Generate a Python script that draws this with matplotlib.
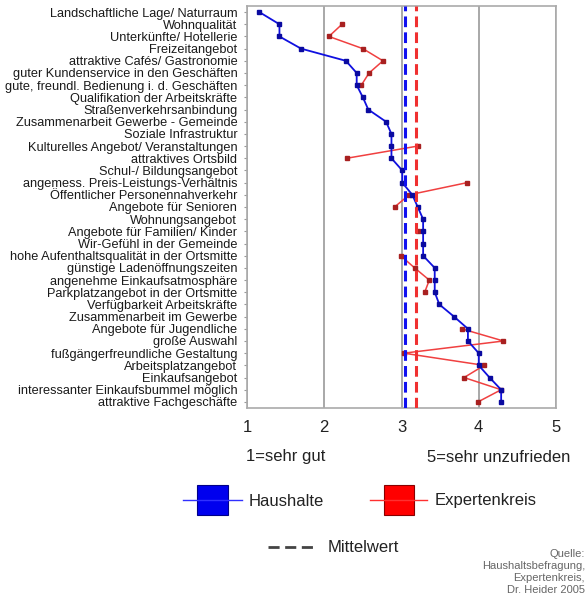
import numpy as np
import matplotlib
matplotlib.use('Agg')
import matplotlib.pyplot as plt

plt.rcParams['font.family'] = ['Liberation Sans', 'DejaVu Sans']

# Merkmale (von oben nach unten)
merkmale = [
    'Landschaftliche Lage/ Naturraum', 'Wohnqualität', 'Unterkünfte/ Hotellerie',
    'Freizeitangebot', 'attraktive Cafés/ Gastronomie',
    'guter Kundenservice in den Geschäften', 'gute, freundl. Bedienung i. d. Geschäften',
    'Qualifikation der Arbeitskräfte', 'Straßenverkehrsanbindung',
    'Zusammenarbeit Gewerbe - Gemeinde', 'Soziale Infrastruktur',
    'Kulturelles Angebot/ Veranstaltungen', 'attraktives Ortsbild',
    'Schul-/ Bildungsangebot', 'angemess. Preis-Leistungs-Verhältnis',
    'Öffentlicher Personennahverkehr', 'Angebote für Senioren', 'Wohnungsangebot',
    'Angebote für Familien/ Kinder', 'Wir-Gefühl in der Gemeinde',
    'hohe Aufenthaltsqualität in der Ortsmitte', 'günstige Ladenöffnungszeiten',
    'angenehme Einkaufsatmosphäre', 'Parkplatzangebot in der Ortsmitte',
    'Verfügbarkeit Arbeitskräfte', 'Zusammenarbeit im Gewerbe',
    'Angebote für Jugendliche', 'große Auswahl', 'fußgängerfreundliche Gestaltung',
    'Arbeitsplatzangebot', 'Einkaufsangebot', 'interessanter Einkaufsbummel möglich',
    'attraktive Fachgeschäfte',
]

# Noten Haushalte
haushalte = [1.16, 1.42, 1.42, 1.70, 2.28, 2.42, 2.42, 2.50, 2.57, 2.80, 2.87,
             2.87, 2.87, 3.01, 3.01, 3.14, 3.21, 3.28, 3.28, 3.28, 3.28, 3.43,
             3.43, 3.43, 3.49, 3.68, 3.86, 3.86, 4.00, 4.00, 4.14, 4.29, 4.29]

# Noten Expertenkreis (nan = keine Angabe)
nan = np.nan
experten = [nan, 2.23, 2.06, 2.50, 2.76, 2.58, 2.48, nan, nan, nan, nan,
            3.21, 2.29, nan, 3.85, 3.10, 2.91, nan, 3.21, nan, 2.99, 3.17,
            3.36, 3.30, nan, nan, 3.78, 4.32, 3.03, 4.07, 3.81, 4.29, 3.99]

mittel_haushalte = 3.05
mittel_experten = 3.19

W, H = 588, 598
fig = plt.figure(figsize=(W / 100, H / 100), dpi=100)
ax = fig.add_axes([247 / W, 1 - 408 / H, (556 - 247) / W, (408 - 6) / H])

y = np.arange(len(merkmale))
ax.plot(haushalte, y, color='#1010e0', lw=1.3, marker='s', ms=3.3,
        mfc='#0a0aa0', mec='#0a0aa0', zorder=3)
ax.plot(experten, y, color='#f04040', lw=1.1, marker='s', ms=3.2,
        mfc='#a82020', mec='#a82020', zorder=2)

ax.axvline(mittel_haushalte, color='#1010f0', lw=2.2, ls=(0, (3.5, 1.7)), zorder=4)
ax.axvline(mittel_experten, color='#f03030', lw=2.2, ls=(0, (3.5, 1.7)), zorder=4)

ax.set_xlim(1, 5)
ax.set_ylim(len(merkmale) - 0.5, -0.5)
ax.set_xticks([1, 2, 3, 4, 5])
ax.set_yticks(y)
ax.set_yticklabels(merkmale, fontsize=9.2, color='#1a1a1a')
ax.tick_params(axis='y', length=2, color='#999999', pad=5)
ax.tick_params(axis='x', length=0, pad=9, labelsize=12, colors='#222222')
ax.grid(axis='x', color='#999999', lw=1.2)
ax.set_axisbelow(True)
for s in ax.spines.values():
    s.set_color('#aaaaaa')
    s.set_linewidth(1.2)

def px(x, yy):
    return x / W, 1 - yy / H

fig.text(*px(246, 457), '1=sehr gut', fontsize=12, va='center', ha='left', color='#222222')
fig.text(*px(570, 457), '5=sehr unzufrieden', fontsize=12, va='center', ha='right', color='#222222')

# Legende
lax = fig.add_axes([0, 0, 1, 1])
lax.set_xlim(0, W)
lax.set_ylim(H, 0)
lax.axis('off')
lax.plot([183, 242], [500, 500], color='#3030ff', lw=1)
lax.add_patch(plt.Rectangle((197, 485), 31, 30, fc='#0000ee', ec='#000088', lw=0.8))
lax.text(249, 501, 'Haushalte', fontsize=12, va='center', color='#222222')
lax.plot([370, 427], [500, 500], color='#ff3030', lw=1)
lax.add_patch(plt.Rectangle((384, 485), 30, 30, fc='#ff0000', ec='#880000', lw=0.8))
lax.text(435, 501, 'Expertenkreis', fontsize=12, va='center', color='#222222')
lax.plot([268, 317], [547, 547], color='#444444', lw=2, ls=(0, (4, 2)))
lax.text(328, 547, 'Mittelwert', fontsize=12, va='center', color='#222222')

quelle = 'Quelle:\nHaushaltsbefragung,\nExpertenkreis,\nDr. Heider 2005'
lax.text(585, 549, quelle, fontsize=8, va='top', ha='right', color='#666666',
         linespacing=1.25)

fig.savefig('out.png', dpi=100)
